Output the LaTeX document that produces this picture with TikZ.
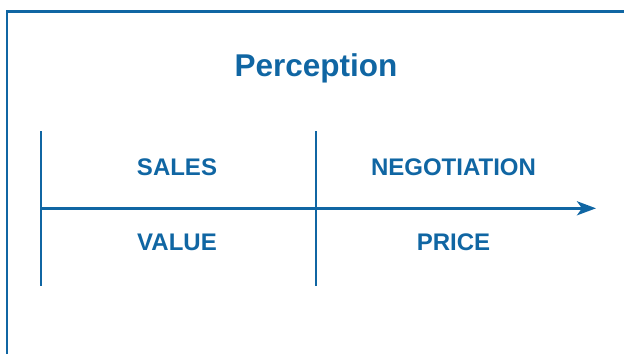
\documentclass[tikz,border=0pt]{standalone}
\usepackage{fontspec}
\setmainfont{Liberation Sans}
\usetikzlibrary{arrows.meta}
\definecolor{percblue}{RGB}{16,102,163}
\tikzset{
	axisline/.style={draw=percblue,line width=2.8pt},
	quadlabel/.style={text=percblue,font=\bfseries\fontsize{24}{28}\selectfont,anchor=base,inner sep=0pt},
	titlelabel/.style={text=percblue,font=\bfseries\fontsize{31.5}{36}\selectfont,anchor=base,inner sep=0pt}
}
\begin{document}
\begin{tikzpicture}[x=1pt,y=-1pt]
		\useasboundingbox (0,0) rectangle (624,354);
		\draw[percblue,line width=2.5pt] (7,354) -- (7,11.3) -- (624,11.3);
		\node[titlelabel] (title) at (316,76.5) {Perception};
		\coordinate (origin) at (41,208.3);
		\coordinate (tip) at (596,208.3);
		\coordinate (lefttop) at (41,131);
		\coordinate (leftbot) at (41,285.5);
		\coordinate (midtop) at (316,131);
		\coordinate (midbot) at (316,285.5);
		\draw[axisline] (lefttop) -- (leftbot);
		\draw[axisline] (midtop) -- (midbot);
		\draw[axisline,-{Stealth[length=19pt,width=14pt,inset=5pt]}] (origin) -- (tip);
		\node[quadlabel] (sales) at (177,175) {SALES};
		\node[quadlabel] (negotiation) at (453.5,175) {NEGOTIATION};
		\node[quadlabel] (value) at (177,250) {VALUE};
		\node[quadlabel] (price) at (453.5,250) {PRICE};
	\end{tikzpicture}
\end{document}
